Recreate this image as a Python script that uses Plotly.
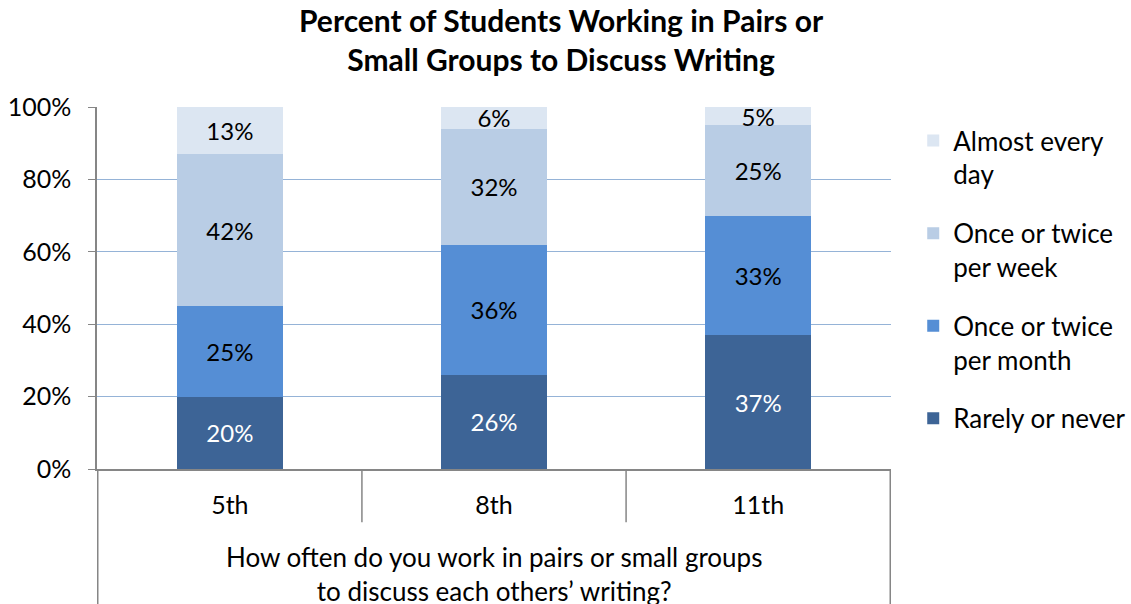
import plotly.graph_objects as go

grades = ["5th", "8th", "11th"]
rarely = [20, 26, 37]
monthly = [25, 36, 33]
weekly = [42, 32, 25]
daily = [13, 6, 5]

series = [
    ("Rarely or never", rarely, "#3D6496", "white"),
    ("Once or twice<br>per month", monthly, "#558ED5", "black"),
    ("Once or twice<br>per week", weekly, "#B9CDE5", "black"),
    ("Almost every<br>day", daily, "#DCE6F2", "black"),
]

FONT = "Lato, Open Sans, sans-serif"

fig = go.Figure()
for i, (name, vals, color, tcolor) in enumerate(series):
    fig.add_trace(go.Bar(
        x=grades, y=[v / 100 for v in vals], name=name,
        marker=dict(color=color, line=dict(width=0)),
        text=[f"{v}%" for v in vals], textposition="inside",
        insidetextanchor="middle", textangle=0, constraintext="none",
        textfont=dict(color=tcolor, size=24, family=FONT),
        legendgroup=f"g{i}", legendrank=len(series) - i, hoverinfo="skip",
    ))

fig.update_layout(
    width=1131, height=604,
    barmode="stack", bargap=0.6,
    plot_bgcolor="white", paper_bgcolor="white",
    margin=dict(l=97, r=240, t=107, b=135, autoexpand=False),
    font=dict(family=FONT, size=26, color="black"),
    uniformtext=dict(minsize=24, mode="show"),
    legend=dict(
        x=1.028, xanchor="left", y=0.972, yanchor="top",
        traceorder="grouped", valign="top",
        tracegroupgap=22, font=dict(size=26, family=FONT),
        itemwidth=30,
    ),
    showlegend=True,
)

fig.add_annotation(
    text="<b>Percent of Students Working in Pairs or<br>Small Groups to Discuss Writing</b>",
    xref="paper", yref="paper", x=0.5856, y=1.187, xanchor="center", yanchor="middle",
    showarrow=False, font=dict(size=30, family=FONT), align="center",
)

fig.update_yaxes(
    range=[0, 1], tickvals=[0, 0.2, 0.4, 0.6, 0.8, 1.0],
    tickformat=".0%", showgrid=True, gridcolor="#95B3D7", gridwidth=1,
    showline=True, linecolor="#868686", linewidth=1.5,
    ticks="outside", ticklen=7, tickcolor="#868686",
    tickfont=dict(size=25, family=FONT), zeroline=False,
    ticklabelstandoff=12,
)
fig.update_xaxes(
    showline=True, linecolor="#868686", linewidth=1.5,
    ticks="", tickfont=dict(size=25, family=FONT),
    ticklabelstandoff=13,
)

# multi-level category axis dividers
for xv in [0.5, 1.5]:
    fig.add_shape(type="line", xref="x", yref="paper", x0=xv, x1=xv, y0=0, y1=-0.147,
                  line=dict(color="#868686", width=1.5))
for xv in [-0.5, 2.5]:
    fig.add_shape(type="line", xref="x", yref="paper", x0=xv, x1=xv, y0=0, y1=-0.4,
                  line=dict(color="#868686", width=1.5))

fig.add_annotation(
    text="How often do you work in pairs or small groups<br>to discuss each others\u2019 writing?",
    xref="paper", yref="paper", x=0.5, y=-0.193, yanchor="top", xanchor="center",
    showarrow=False, font=dict(size=26, family=FONT), align="center",
)

fig.write_html("out.html")
